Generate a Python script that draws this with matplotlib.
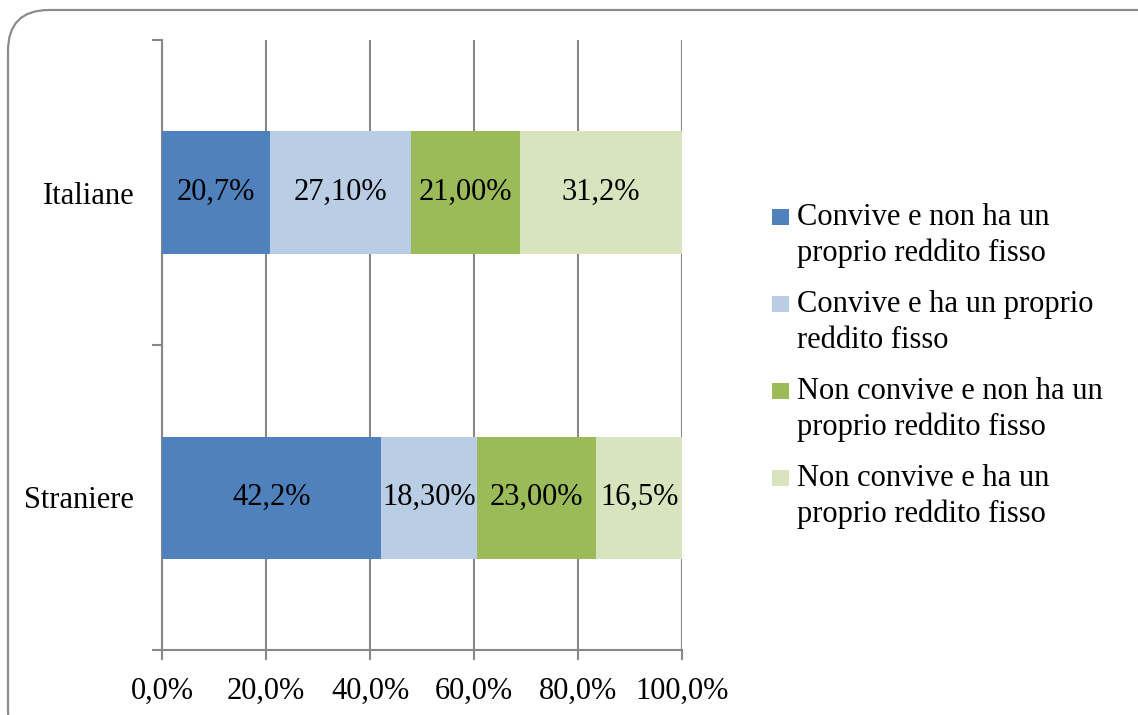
import matplotlib.pyplot as plt
from matplotlib.patches import FancyBboxPatch, Rectangle

categories = ["Straniere", "Italiane"]
series_names = ["Convive e non ha un\nproprio reddito fisso",
                "Convive e ha un proprio\nreddito fisso",
                "Non convive e non ha un\nproprio reddito fisso",
                "Non convive e ha un\nproprio reddito fisso"]
# values per series, ordered as categories (Straniere, Italiane)
values = [[42.2, 20.7],
          [18.3, 27.1],
          [23.0, 21.0],
          [16.5, 31.2]]
value_labels = [["42,2%", "20,7%"],
                ["18,30%", "27,10%"],
                ["23,00%", "21,00%"],
                ["16,5%", "31,2%"]]
xticks = [0, 20, 40, 60, 80, 100]
xtick_labels = ["0,0%", "20,0%", "40,0%", "60,0%", "80,0%", "100,0%"]
colors = ["#4F81BD", "#B9CDE5", "#9BBB59", "#D7E4BD"]

plt.rcParams['font.family'] = ['Liberation Serif', 'DejaVu Serif']
grid_col = "#888888"
fs = 22

fig = plt.figure(figsize=(11.38, 7.15), dpi=100)
W, H = 1138, 715

# rounded outer frame
frame = FancyBboxPatch((8 / W, -0.05), 1.05, 1 - 10 / H + 0.05,
                       boxstyle="round,pad=0,rounding_size=0.036",
                       transform=fig.transFigure, facecolor="none",
                       edgecolor="#8c8c8c", linewidth=1.6, zorder=-1,
                       mutation_aspect=W / H)
fig.patches.append(frame)

ax = fig.add_axes([162 / W, 1 - 650 / H, (682 - 162) / W, (650 - 40) / H])
ax.patch.set_alpha(0)

ypos = list(range(len(categories)))
left = [0] * len(categories)
for i, name in enumerate(series_names):
    ax.barh(ypos, values[i], left=left, height=0.4, color=colors[i],
            label=name, zorder=3)
    for j in range(len(categories)):
        ax.text(left[j] + values[i][j] / 2, ypos[j], value_labels[i][j],
                ha="center", va="center", fontsize=fs, color="black", zorder=4)
    left = [l + v for l, v in zip(left, values[i])]

ax.set_xlim(0, 100)
ax.set_ylim(-0.5, len(categories) - 0.5)
ax.set_xticks(xticks)
ax.set_xticklabels(xtick_labels, fontsize=fs)
ax.set_yticks(ypos)
ax.set_yticklabels(categories, fontsize=fs)
ax.tick_params(axis="y", which="major", length=0, pad=20)
ax.set_yticks([p - 0.5 for p in ypos] + [ypos[-1] + 0.5], minor=True)
ax.tick_params(axis="y", which="minor", length=7, width=1.5, color=grid_col)
ax.tick_params(axis="x", length=7, width=1.5, color=grid_col, pad=12)
ax.xaxis.grid(True, color=grid_col, linewidth=1.5, zorder=1)
ax.set_axisbelow(True)
for s in ["top", "right"]:
    ax.spines[s].set_visible(False)
for s in ["left", "bottom"]:
    ax.spines[s].set_color(grid_col)
    ax.spines[s].set_linewidth(1.5)

# legend drawn by hand so the marker sits on the first line
for i, name in enumerate(series_names):
    base = 225 + 87 * i
    fig.patches.append(Rectangle((772 / W, 1 - base / H), 17 / W, 16 / H,
                                 transform=fig.transFigure,
                                 facecolor=colors[i], edgecolor="none"))
    for k, line in enumerate(name.split("\n")):
        fig.text(797 / W, 1 - (base + 36 * k) / H, line, fontsize=fs,
                 ha="left", va="baseline")

fig.savefig("out.png", dpi=100)
